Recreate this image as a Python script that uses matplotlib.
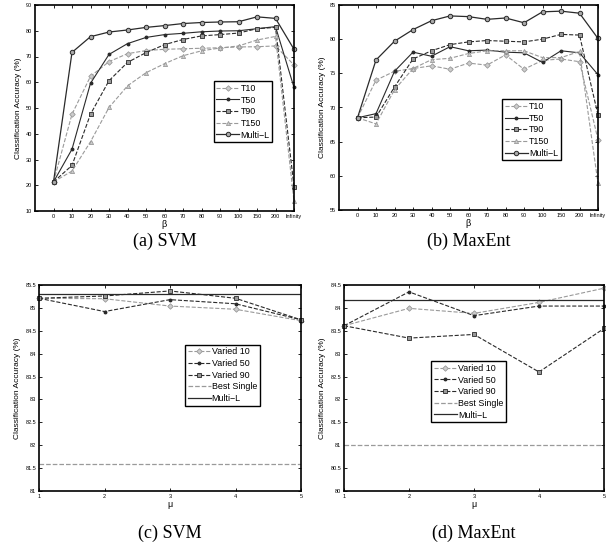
import matplotlib
matplotlib.use("Agg")
import matplotlib.pyplot as plt
import numpy as np

plt.rcParams['font.family'] = ['Liberation Sans', 'DejaVu Sans']

# ---------------- data ----------------
beta_labels = ['0', '10', '20', '30', '40', '50', '60', '70', '80', '90', '100', '150', '200', 'Infinity']

svm_T10 = [21.3, 47.6, 62.3, 68.0, 71.1, 72.3, 72.8, 73.0, 73.2, 73.4, 73.7, 73.8, 74.1, 66.7]
svm_T50 = [21.3, 34.0, 59.6, 70.8, 75.0, 77.4, 78.5, 79.0, 79.6, 79.9, 80.0, 80.8, 81.6, 58.0]
svm_T90 = [21.3, 27.7, 47.6, 60.6, 67.7, 71.5, 74.6, 76.6, 78.0, 78.5, 79.1, 80.8, 81.3, 19.5]
svm_T150 = [21.3, 25.5, 36.9, 50.2, 58.6, 63.7, 67.2, 70.3, 72.2, 73.3, 74.1, 76.4, 77.8, 13.9]
svm_multi = [21.3, 71.6, 77.7, 79.5, 80.3, 81.3, 82.0, 82.8, 83.2, 83.4, 83.5, 85.4, 84.8, 72.8]

me_T10 = [68.5, 74.0, 75.3, 75.7, 76.1, 75.6, 76.5, 76.2, 77.7, 75.6, 76.9, 77.1, 76.7, 65.3]
me_T50 = [68.5, 69.1, 75.3, 78.1, 77.5, 78.9, 78.3, 78.4, 78.1, 78.0, 76.6, 78.3, 78.0, 74.8]
me_T90 = [68.5, 68.6, 73.0, 77.1, 78.3, 79.2, 79.6, 79.8, 79.7, 79.6, 80.0, 80.7, 80.6, 68.9]
me_T150 = [68.5, 67.6, 72.6, 75.7, 77.0, 77.2, 77.9, 78.3, 78.3, 78.3, 77.3, 77.3, 78.2, 58.9]
me_multi = [68.5, 76.95, 79.7, 81.4, 82.7, 83.4, 83.3, 82.9, 83.1, 82.4, 84.0, 84.1, 83.8, 80.1]

mu = [1, 2, 3, 4, 5]
svm_v10 = [85.21, 85.20, 85.04, 84.97, 84.72]
svm_v50 = [85.21, 84.92, 85.18, 85.09, 84.74]
svm_v90 = [85.21, 85.26, 85.37, 85.21, 84.74]
svm_best = 81.59
svm_multiL = 85.30

me_v10 = [83.61, 83.99, 83.88, 84.12, 84.43]
me_v50 = [83.61, 84.35, 83.83, 84.04, 84.04]
me_v90 = [83.61, 83.34, 83.42, 82.60, 83.55]
me_best = 81.0
me_multiL = 84.18

LIGHT = '#9a9a9a'
DARK = '#2a2a2a'

fig = plt.figure(figsize=(6.06, 5.47), dpi=100)
W, H = 606, 547

def add_ax(l, t, r, b):
    return fig.add_axes([l / W, 1 - b / H, (r - l) / W, (b - t) / H])

axa = add_ax(35, 5, 294, 211)
axb = add_ax(339, 5, 598, 210)
axc = add_ax(39, 285, 301, 491)
axd = add_ax(344, 285, 604, 491)

def style(ax):
    for s in ax.spines.values():
        s.set_linewidth(1.2)
    ax.tick_params(direction='in', top=True, right=True, length=2.5, width=0.6,
                   labelsize=4, pad=2)
    ax.set_ylabel('Classification Accuracy (%)', fontsize=6, labelpad=3)

def legend(ax, box):
    lg = ax.legend(loc='upper left', bbox_to_anchor=box, fontsize=6.4, frameon=True,
                   fancybox=False, edgecolor='black', framealpha=1, handlelength=2.6,
                   handletextpad=0.1, borderpad=0.3, labelspacing=0.3, borderaxespad=0,
                   numpoints=1)
    lg.get_frame().set_linewidth(1.0)

def beta_panel(ax, t10, t50, t90, t150, multi, ylim, yticks, box):
    x = np.arange(len(beta_labels))
    kw = dict(clip_on=False)
    ax.plot(x, t10, '--', color=LIGHT, lw=0.8, marker='D', ms=2.8, mfc='#cccccc', mec=LIGHT, mew=0.6, label='T10', **kw)
    ax.plot(x, t50, '-', color=DARK, lw=0.8, marker='o', ms=1.8, mfc=DARK, mec=DARK, label='T50', **kw)
    ax.plot(x, t90, '--', color=DARK, lw=0.8, marker='s', ms=2.8, mfc='#999999', mec=DARK, mew=0.6, label='T90', **kw)
    ax.plot(x, t150, '--', color=LIGHT, lw=0.8, marker='^', ms=3, mfc='#cccccc', mec=LIGHT, mew=0.6, label='T150', **kw)
    ax.plot(x, multi, '-', color=DARK, lw=0.9, marker='o', ms=3.2, mfc='#aaaaaa', mec=DARK, mew=0.7, label='Multi\u2212L', **kw)
    ax.set_xlim(-1, 13)
    ax.set_ylim(*ylim)
    ax.set_xticks(x)
    ax.set_xticklabels(beta_labels)
    ax.set_yticks(yticks)
    ax.set_xlabel('\u03b2', fontsize=6.5, labelpad=1)
    style(ax)
    legend(ax, box)

beta_panel(axa, svm_T10, svm_T50, svm_T90, svm_T150, svm_multi, (10, 90),
           np.arange(10, 91, 10), (0.69, 0.63))
beta_panel(axb, me_T10, me_T50, me_T90, me_T150, me_multi, (55, 85),
           np.arange(55, 86, 5), (0.63, 0.54))

def mu_panel(ax, v10, v50, v90, best, multi, ylim, box):
    kw = dict(clip_on=False)
    ax.plot(mu, v10, '--', color=LIGHT, lw=0.8, marker='D', ms=2.8, mfc='#cccccc', mec=LIGHT, mew=0.6, label='Varied 10', **kw)
    ax.plot(mu, v50, '--', color=DARK, lw=0.8, marker='o', ms=1.8, mfc=DARK, mec=DARK, label='Varied 50', **kw)
    ax.plot(mu, v90, '--', color=DARK, lw=0.8, marker='s', ms=2.8, mfc='#999999', mec=DARK, mew=0.6, label='Varied 90', **kw)
    ax.plot(mu, [best] * len(mu), '--', color=LIGHT, lw=0.9, label='Best Single')
    ax.plot(mu, [multi] * len(mu), '-', color=DARK, lw=0.9, label='Multi\u2212L')
    ax.set_xlim(1, 5)
    ax.set_ylim(*ylim)
    ax.set_xticks(mu)
    ax.set_yticks(np.arange(ylim[0], ylim[1] + 0.01, 0.5))
    ax.yaxis.set_major_formatter(matplotlib.ticker.FuncFormatter(lambda v, p: f'{v:g}'))
    ax.set_xlabel('\u03bc', fontsize=6.5, labelpad=1)
    style(ax)
    legend(ax, box)

mu_panel(axc, svm_v10, svm_v50, svm_v90, svm_best, svm_multiL, (81, 85.5), (0.557, 0.71))
mu_panel(axd, me_v10, me_v50, me_v90, me_best, me_multiL, (80, 84.5), (0.335, 0.63))

cap = dict(fontsize=13, family='Liberation Serif', ha='center', va='center')
fig.text((35 + 294) / 2 / W, 1 - 241 / H, '(a) SVM', **cap)
fig.text((339 + 598) / 2 / W, 1 - 241 / H, '(b) MaxEnt', **cap)
fig.text((39 + 301) / 2 / W, 1 - 533 / H, '(c) SVM', **cap)
fig.text((344 + 604) / 2 / W, 1 - 533 / H, '(d) MaxEnt', **cap)

fig.savefig('out.png', dpi=100)
